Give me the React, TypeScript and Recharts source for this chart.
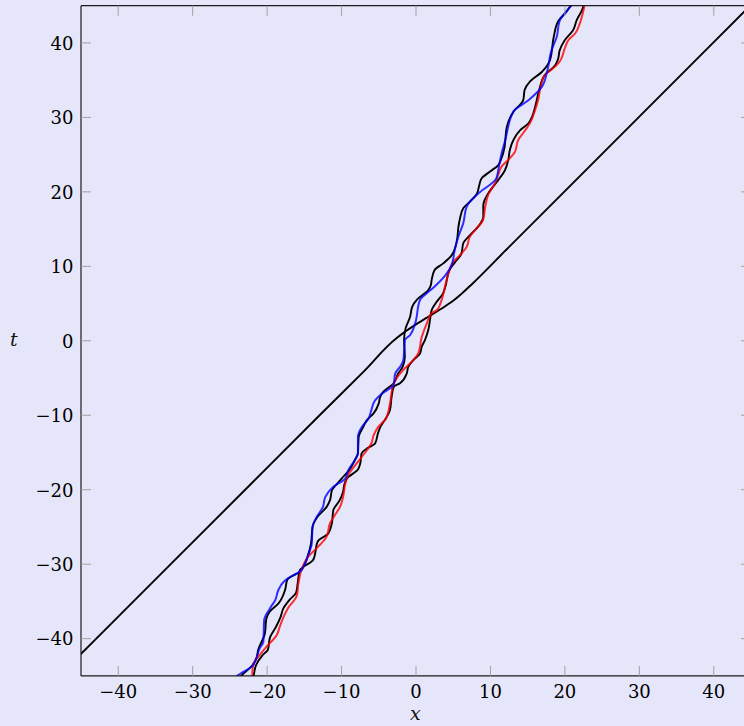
import React from 'react';
import { LineChart, Line, XAxis, YAxis } from 'recharts';

// Trajectories, each as [t, x] pairs ordered by t.
const solitonPath: [number, number][] = [
  [-48, -50.95], [-40, -42.95], [-30, -32.95], [-20, -22.95], [-10, -12.95], [-4, -6.9],
  [0.4, -2.55], [1.2, -1.5], [2.2, 0.0], [3.2, 1.6], [4.3, 3.4], [5.3, 4.9], [6.3, 6.1],
  [7.5, 7.4], [12, 11.9], [20, 19.9], [30, 29.9], [40, 39.9], [48, 47.9],
];

const blackLeftPath: [number, number][] = [
  [-46.5, -25.0], [-44.9, -23.4], [-43.6, -22.0], [-42.5, -21.4], [-41.5, -21.2], [-39.3, -20.3],
  [-37.3, -20.1], [-36.3, -19.6], [-35.3, -18.5], [-33.5, -17.6], [-32.1, -17.3], [-31.0, -15.6],
  [-29.9, -14.9], [-28.8, -14.5], [-27.2, -14.1], [-25.0, -13.9], [-23.6, -13.2], [-22.3, -12.0],
  [-21.4, -11.55], [-20.1, -11.3], [-19.2, -10.6], [-18.5, -10.0], [-17.4, -9.0], [-16.0, -8.2],
  [-15.1, -7.8], [-12.9, -7.7], [-11.6, -7.1], [-10.65, -6.6], [-9.75, -5.7], [-8.4, -5.0],
  [-7.5, -4.8], [-6.85, -4.4], [-5.7, -3.0], [-4.4, -2.4], [-3.5, -1.8], [-2.15, -1.5],
  [0.1, -1.6], [1.67, -1.4], [3.2, -0.8], [4.6, -0.5], [5.5, 0.1], [6.8, 1.65], [7.5, 2.0],
  [8.15, 2.1], [9.5, 2.5], [10.4, 3.67], [11.5, 4.8], [13.5, 5.5], [15.3, 5.7], [16.4, 5.9],
  [17.8, 6.35], [18.7, 7.25], [19.8, 8.2], [20.9, 8.5], [21.8, 8.8], [22.7, 9.9], [23.6, 11.06],
  [24.3, 11.4], [26, 11.9], [27, 12.0], [28.7, 12.2], [30.8, 13.1], [32.3, 14.4], [33.7, 14.6],
  [34.8, 15.3], [36.1, 16.9], [37.7, 18.0], [40.8, 18.5], [42.9, 19.1], [44.2, 20.2], [45.3, 21.0],
  [47, 22.4],
];

const blackRightPath: [number, number][] = [
  [-46.5, -22.3], [-44.9, -21.8], [-43.6, -21.5], [-42.2, -20.6], [-41.5, -19.9], [-39.8, -19.6],
  [-38.4, -18.8], [-37.1, -18.2], [-35.9, -17.8], [-34.8, -17.0], [-33.8, -16.1], [-32.6, -15.9],
  [-30.8, -15.6], [-29.4, -13.8], [-28.3, -13.5], [-27.2, -13.3], [-26.8, -13.1], [-25.9, -11.8],
  [-24.5, -11.3], [-22.7, -11.1], [-21.5, -10.3], [-20.3, -9.8], [-19.2, -9.6], [-18.3, -9.1],
  [-17.8, -8.4], [-17.4, -7.9], [-16.5, -7.5], [-15.1, -7.3], [-14.4, -6.5], [-13.8, -5.5],
  [-12.4, -5.1], [-11.6, -4.8], [-10.65, -4.2], [-9.3, -3.5], [-7.5, -3.27], [-6.2, -3.0],
  [-5.7, -2.15], [-4.4, -1.25], [-3.5, -1.03], [-2.6, -0.36], [-1.7, 0.54], [-0.8, 0.77],
  [0.1, 1.2], [1.44, 1.65], [2.8, 1.88], [4.1, 2.1], [5.24, 2.78], [6.3, 3.6], [7.3, 3.95],
  [9.5, 4.5], [10.5, 5.2], [11.7, 6.1], [13.1, 6.35], [14.2, 7.25], [15.4, 8.4], [16.7, 9.04],
  [18.2, 9.04], [19.8, 9.7], [21.6, 11.06], [22.8, 11.9], [24.3, 12.4], [25.6, 12.6], [27.0, 13.1],
  [28.3, 14.0], [29.2, 15.1], [30.1, 15.6], [31.4, 16.0], [33.5, 16.5], [35.7, 17.3], [37.0, 18.7],
  [37.9, 19.1], [39.0, 19.3], [40.4, 20.0], [41.7, 21.1], [43.1, 21.6], [44.4, 22.3], [45.3, 22.6],
  [47, 23.3],
];

const bluePath: [number, number][] = [
  [-46.5, -25.4], [-44.9, -23.9], [-43.6, -21.9], [-41.3, -21.0], [-40.4, -20.5], [-37.5, -20.4],
  [-35.9, -19.6], [-34.8, -18.9], [-33.5, -18.5], [-32.4, -17.8], [-31.9, -17.2], [-31.0, -15.6],
  [-29.9, -14.9], [-28.8, -14.5], [-27.2, -14.0], [-25.0, -13.9], [-23.6, -13.3], [-22.3, -12.5],
  [-21.0, -12.2], [-19.6, -11.1], [-18.5, -9.5], [-17.4, -9.1], [-16.0, -8.2], [-15.1, -7.8],
  [-12.9, -7.8], [-11.6, -7.3], [-10.5, -6.4], [-9.3, -6.0], [-8.0, -5.5], [-7.1, -4.6],
  [-5.95, -3.0], [-4.4, -2.8], [-3.5, -2.15], [-2.6, -1.7], [0.1, -1.48], [0.77, -0.8],
  [2.3, -0.13], [5.5, 0.54], [6.4, 1.44], [7.2, 2.4], [10.2, 4.8], [12.2, 5.2], [14.0, 5.7],
  [15.8, 6.35], [18.0, 6.8], [19.8, 8.4], [21.8, 10.8], [23.2, 11.1], [25.2, 11.5], [27.0, 12.0],
  [27.9, 12.2], [30.8, 13.1], [32.3, 15.1], [34.1, 16.9], [36.1, 17.6], [39.0, 18.2], [40.8, 18.9],
  [43.0, 19.3], [44.2, 20.2], [45.3, 21.1], [47, 22.6],
];

const redPath: [number, number][] = [
  [-46.5, -22.2], [-44.9, -22.0], [-43.6, -21.9], [-42.2, -21.0], [-41.1, -20.1], [-39.5, -18.7],
  [-38.4, -18.3], [-37.1, -17.8], [-35.9, -17.2], [-34.2, -16.0], [-32.6, -15.8], [-30.8, -15.4],
  [-29.0, -14.5], [-27.8, -13.3], [-26.3, -12.0], [-24.5, -11.55], [-23.4, -10.9], [-22.3, -10.2],
  [-21.0, -9.8], [-19.2, -9.5], [-18.0, -9.1], [-16.5, -8.0], [-14.7, -6.6], [-13.8, -6.0],
  [-12.7, -5.7], [-11.6, -5.1], [-10.4, -4.0], [-8.4, -3.5], [-5.7, -3.0], [-3.9, -1.7],
  [-2.6, -0.36], [-1.7, 0.3], [0.5, 0.77], [2.3, 1.44], [3.7, 2.1], [4.1, 2.8], [5.5, 3.45],
  [7.3, 3.9], [9.5, 4.5], [10.6, 5.0], [11.5, 5.9], [12.6, 6.8], [14.0, 7.25], [15.1, 8.15],
  [16.2, 9.0], [18.0, 9.3], [19.6, 9.7], [21.1, 10.6], [22.5, 11.1], [23.4, 11.5], [24.3, 12.4],
  [25.4, 13.3], [27.0, 13.75], [27.9, 14.4], [29.2, 15.3], [31.0, 16.0], [32.3, 16.4], [33.9, 16.7],
  [35.7, 17.3], [36.4, 18.2], [37.5, 19.3], [39.3, 20.0], [40.4, 20.5], [41.3, 21.4], [42.6, 22.0],
  [44.4, 22.5], [45.3, 22.7], [47, 23.4],
];

const xTicks = [-40, -30, -20, -10, 0, 10, 20, 30, 40];
const tTicks = [-40, -30, -20, -10, 0, 10, 20, 30, 40];

const toRows = (path: [number, number][]) => path.map(([t, x]) => ({ t, x }));

const FONT = '"DejaVu Serif", serif';
const fmt = (v: number) => (v < 0 ? `\u2212${Math.abs(v)}` : `${v}`);

const BottomTick = (props: any) => (
  <text x={props.x} y={props.y} textAnchor="middle" fontFamily={FONT} fontSize={18} fill="#000">
    {fmt(props.payload.value)}
  </text>
);

const LeftTick = (props: any) => (
  <text x={props.x} y={props.y + 6.8} textAnchor="end" fontFamily={FONT} fontSize={18} fill="#000">
    {fmt(props.payload.value)}
  </text>
);

const NoTick = () => <g />;

const series = [
  { key: 'soliton', path: solitonPath, color: '#000000', width: 1.9, opacity: 1 },
  { key: 'blackLeft', path: blackLeftPath, color: '#000000', width: 1.9, opacity: 1 },
  { key: 'blackRight', path: blackRightPath, color: '#000000', width: 1.9, opacity: 1 },
  { key: 'red', path: redPath, color: '#ff0000', width: 2, opacity: 0.8 },
  { key: 'blue', path: bluePath, color: '#0000ff', width: 2, opacity: 0.8 },
];

export default function App() {
  return (
    <div
      style={{
        position: 'fixed',
        left: 0,
        top: 0,
        width: 744,
        height: 726,
        overflow: 'hidden',
        background: '#e6e6fa',
      }}
    >
      <LineChart
        width={760}
        height={726}
        layout="vertical"
        margin={{ top: 4.7, right: 8, bottom: 0, left: 0 }}
      >
        <XAxis
          xAxisId="b"
          type="number"
          orientation="bottom"
          domain={[-45, 45]}
          ticks={xTicks}
          allowDataOverflow
          height={50.1}
          tickSize={-10}
          tickMargin={32}
          tick={BottomTick}
          tickLine={{ stroke: '#a0a0a0', strokeWidth: 1 }}
          axisLine={{ stroke: '#1a1a1a', strokeWidth: 1.2 }}
        />
        <XAxis
          xAxisId="top"
          type="number"
          orientation="top"
          domain={[-45, 45]}
          ticks={xTicks}
          allowDataOverflow
          height={1}
          tickSize={-10}
          tick={NoTick}
          tickLine={{ stroke: '#a0a0a0', strokeWidth: 1 }}
          axisLine={{ stroke: '#1a1a1a', strokeWidth: 1.2 }}
        />
        <YAxis
          yAxisId="l"
          type="number"
          dataKey="t"
          orientation="left"
          reversed
          domain={[-45, 45]}
          ticks={tTicks}
          allowDataOverflow
          width={81}
          tickSize={-10}
          tickMargin={17.5}
          tick={LeftTick}
          tickLine={{ stroke: '#a0a0a0', strokeWidth: 1 }}
          axisLine={{ stroke: '#1a1a1a', strokeWidth: 1.2 }}
        />
        <YAxis
          yAxisId="r"
          type="number"
          dataKey="t"
          orientation="right"
          reversed
          domain={[-45, 45]}
          ticks={tTicks}
          allowDataOverflow
          width={1}
          tickSize={-10}
          tick={NoTick}
          tickLine={{ stroke: '#a0a0a0', strokeWidth: 1 }}
          axisLine={{ stroke: '#1a1a1a', strokeWidth: 1.2 }}
        />
        {series.map((s) => (
          <Line
            key={s.key}
            xAxisId="b"
            yAxisId="l"
            data={toRows(s.path)}
            dataKey="x"
            type="monotone"
            stroke={s.color}
            strokeWidth={s.width}
            strokeOpacity={s.opacity}
            dot={false}
            activeDot={false}
            isAnimationActive={false}
          />
        ))}
      </LineChart>
      <div
        style={{
          position: 'absolute',
          left: 10,
          top: 328,
          fontFamily: FONT,
          fontStyle: 'italic',
          fontSize: 19,
          color: '#111',
        }}
      >
        t
      </div>
      <div
        style={{
          position: 'absolute',
          left: 410,
          top: 702,
          fontFamily: FONT,
          fontStyle: 'italic',
          fontSize: 19,
          color: '#111',
        }}
      >
        x
      </div>
    </div>
  );
}
